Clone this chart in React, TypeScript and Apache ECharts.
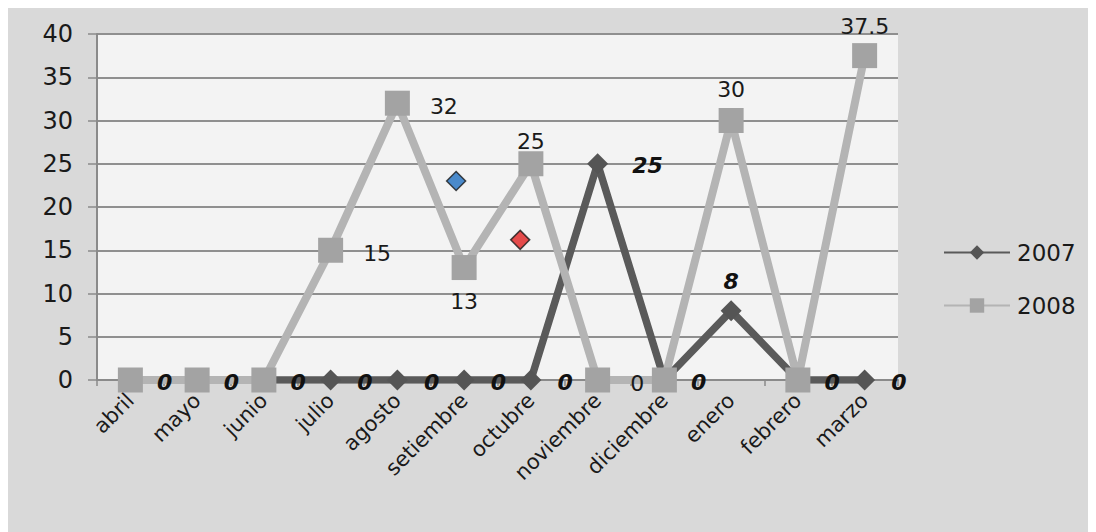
import React, { useEffect, useRef } from "react";
import * as echarts from "echarts";

const months = ["abril", "mayo", "junio", "julio", "agosto", "setiembre", "octubre", "noviembre", "diciembre", "enero", "febrero", "marzo"];
const values2007 = [0, 0, 0, 0, 0, 0, 0, 25, 0, 8, 0, 0];
const values2008 = [0, 0, 0, 15, 32, 13, 25, 0, 0, 30, 0, 37.5];
// which 2008 points carry a label, and where
const labels2008 = ["", "", "", "right", "right", "bottom", "top", "right", "", "top", "", "top"];
// which 2007 points carry a label, and where
const labels2007 = ["right", "right", "right", "right", "right", "right", "right", "right", "right", "top", "right", "right"];
// stray highlighted markers: [category position, value, colour]
const markerX = [4.88, 5.84];
const markerY = [23, 16.2];
const markerColors = ["#1f6fc0", "#e02020"];
const yTicks = { min: 0, max: 40, interval: 5 };

const FONT = "DejaVu Sans";

export default function App() {
  const ref = useRef<HTMLDivElement>(null);
  useEffect(() => {
    if (!ref.current) return;
    const chart = echarts.init(ref.current, null, { renderer: "svg" });
    const d2007 = values2007.map((v, i) => ({
      value: v,
      label: {
        show: true,
        position: labels2007[i],
        distance: v === 25 ? 24 : labels2007[i] === "top" ? 8 : 16,
        offset: labels2007[i] === "right" ? [0, 2] : [0, 0],
      },
    }));
    const dist2008: Record<string, number> = { right: 20, top: 6, bottom: 10 };
    const d2008 = values2008.map((v, i) => ({
      value: v,
      label: labels2008[i]
        ? {
            show: true,
            position: labels2008[i],
            distance: i === 6 ? -1 : dist2008[labels2008[i]] + (i === 9 ? 2 : 0),
            offset: labels2008[i] === "right" ? [0, 3] : [0, 0],
          }
        : { show: false },
    }));
    const markers = markerX.map((x, i) => ({
      value: [x, markerY[i]],
      itemStyle: { color: markerColors[i] },
    }));
    chart.setOption({
      animation: false,
      backgroundColor: "#d9d9d9",
      grid: {
        left: 89,
        right: 198,
        top: 26,
        bottom: 152,
        show: true,
        backgroundColor: "#f3f3f3",
        borderWidth: 0,
      },
      legend: {
        orient: "vertical",
        left: 930,
        top: 228,
        itemWidth: 66,
        itemHeight: 18,
        itemGap: 30,
        data: ["2007", "2008"],
        textStyle: { fontFamily: FONT, fontSize: 23, color: "#1a1a1a", padding: [0, 0, 0, 2] },
      },
      xAxis: [
        {
          type: "category",
          data: months,
          boundaryGap: true,
          axisLine: { lineStyle: { color: "#8a8a8a", width: 2 } },
          axisTick: { show: true, length: 6, lineStyle: { color: "#8a8a8a", width: 1.5 } },
          axisLabel: {
            rotate: 45,
            margin: 17,
            fontFamily: FONT,
            fontSize: 21,
            color: "#1a1a1a",
            interval: 0,
          },
        },
        {
          type: "value",
          min: -0.5,
          max: 11.5,
          show: false,
        },
      ],
      yAxis: {
        type: "value",
        min: yTicks.min,
        max: yTicks.max,
        interval: yTicks.interval,
        axisLine: { show: true, onZero: false, lineStyle: { color: "#8a8a8a", width: 2 } },
        axisTick: { show: true, length: 9, lineStyle: { color: "#8a8a8a", width: 1.5 } },
        splitLine: { lineStyle: { color: "#8f8f8f", width: 2 } },
        axisLabel: { fontFamily: FONT, fontSize: 24, color: "#1a1a1a", margin: 24 },
      },
      series: [
        {
          name: "2007",
          type: "line",
          data: values2007,
          symbol: "diamond",
          symbolSize: 21,
          z: 2,
          lineStyle: { color: "#5a5a5a", width: 7.5 },
          itemStyle: { color: "#555555" },
        },
        {
          name: "2008",
          type: "line",
          data: d2008,
          symbol: "rect",
          symbolSize: 25,
          z: 3,
          lineStyle: { color: "#b4b4b4", width: 8 },
          itemStyle: { color: "#a3a3a3" },
          label: {
            fontFamily: FONT,
            fontSize: 22,
            color: "#1a1a1a",
          },
        },
        {
          name: "etiquetas 2007",
          type: "line",
          data: d2007,
          symbol: "diamond",
          symbolSize: 21,
          z: 5,
          lineStyle: { color: "rgba(0,0,0,0)", width: 0 },
          itemStyle: { color: "rgba(0,0,0,0)" },
          silent: true,
          label: {
            fontFamily: FONT,
            fontSize: 22,
            fontWeight: "bold",
            fontStyle: "italic",
            color: "#111111",
          },
        },
        {
          name: "marcas",
          type: "scatter",
          xAxisIndex: 1,
          data: markers,
          symbol: "diamond",
          symbolSize: 19,
          z: 4,
          itemStyle: { borderColor: "#1a1a1a", borderWidth: 1.5 },
        },
      ],
    });
    return () => chart.dispose();
  }, []);
  return <div ref={ref} style={{ width: 1088, height: 524 }} />;
}
